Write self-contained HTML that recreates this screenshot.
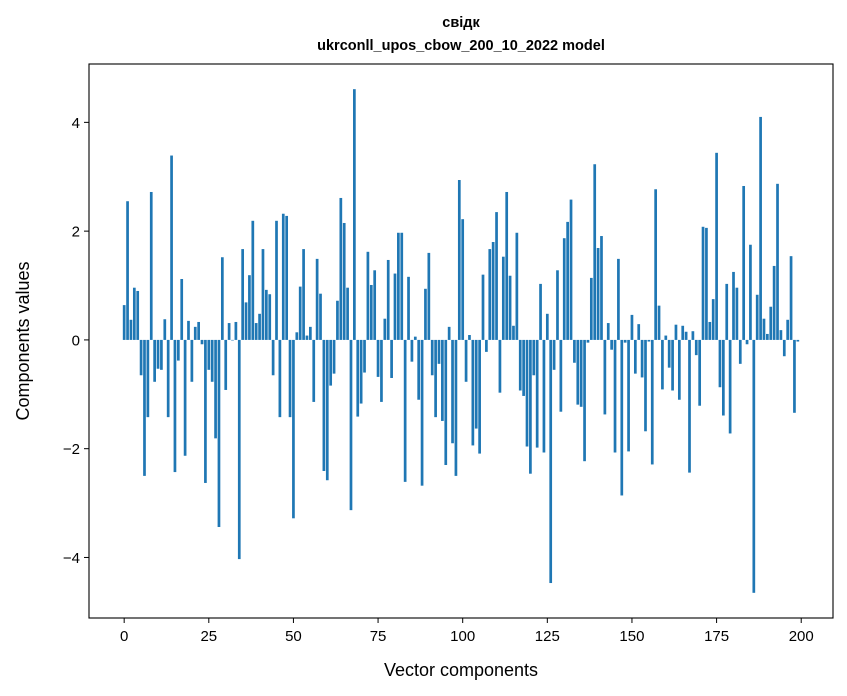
<!DOCTYPE html>
<html><head><meta charset="utf-8"><style>
html,body{margin:0;padding:0;background:#fff;}
svg{display:block;font-family:"Liberation Sans","DejaVu Sans",sans-serif;}
</style></head><body>
<svg id="chart" width="847" height="696" viewBox="0 0 847 696">
<rect width="847" height="696" fill="#fff"/>
<text x="461" y="27" text-anchor="middle" font-size="14.5" font-weight="bold">свідк</text>
<text x="461" y="50" text-anchor="middle" font-size="14.5" font-weight="bold">ukrconll_upos_cbow_200_10_2022 model</text>
<g id="bars"></g>
<g id="xticks"></g>
<g id="yticks"></g>
<rect x="89" y="64" width="744" height="554" fill="none" stroke="#000" stroke-width="1.1"/>
<text x="461" y="676" text-anchor="middle" font-size="18">Vector components</text>
<text transform="translate(29,341) rotate(-90)" text-anchor="middle" font-size="18">Components values</text>
</svg>
<script>
const values = [0.64,2.55,0.37,0.96,0.9,-0.65,-2.5,-1.42,2.72,-0.77,-0.53,-0.55,0.38,-1.42,3.39,-2.43,-0.38,1.12,-2.13,0.35,
-0.77,0.24,0.33,-0.08,-2.63,-0.55,-0.77,-1.81,-3.44,1.52,-0.92,0.31,-0.01,0.33,-4.03,1.67,0.69,1.19,2.19,0.31,
0.48,1.67,0.92,0.84,-0.65,2.19,-1.42,2.32,2.28,-1.42,-3.28,0.14,0.98,1.67,0.08,0.24,-1.14,1.49,0.85,-2.41,
-2.58,-0.84,-0.62,0.72,2.61,2.15,0.96,-3.13,4.61,-1.41,-1.17,-0.6,1.62,1.01,1.28,-0.68,-1.14,0.39,1.47,-0.7,
1.22,1.97,1.97,-2.61,1.16,-0.4,0.06,-1.1,-2.68,0.94,1.6,-0.65,-1.42,-0.44,-1.49,-2.3,0.24,-1.9,-2.5,2.94,
2.22,-0.77,0.09,-1.94,-1.63,-2.09,1.2,-0.22,1.67,1.8,2.35,-0.97,1.53,2.72,1.18,0.26,1.97,-0.93,-1.03,-1.96,
-2.46,-0.65,-1.98,1.03,-2.07,0.48,-4.47,-0.55,1.28,-1.32,1.87,2.17,2.58,-0.42,-1.19,-1.23,-2.23,-0.05,1.14,3.23,
1.69,1.91,-1.37,0.31,-0.18,-2.07,1.49,-2.86,-0.05,-2.05,0.46,-0.62,0.29,-0.69,-1.68,-0.03,-2.29,2.77,0.63,-0.91,
0.08,-0.51,-0.93,0.28,-1.1,0.26,0.15,-2.44,0.16,-0.28,-1.21,2.08,2.06,0.33,0.75,3.44,-0.87,-1.39,1.03,-1.72,
1.25,0.96,-0.44,2.83,-0.08,1.75,-4.65,0.83,4.1,0.39,0.11,0.61,1.36,2.87,0.18,-0.3,0.37,1.54,-1.34,-0.03];
const xTickValues = [0,25,50,75,100,125,150,175,200];
const yTickValues = [-4,-2,0,2,4];
const yTickLabels = ["\u22124","\u22122","0","2","4"];

const NS = "http://www.w3.org/2000/svg";
const L=89, R=833, T=64, B=618;
const n = values.length;
const xmin = -0.4 - 0.05*(n-1+0.8), xmax = (n-1)+0.4 + 0.05*(n-1+0.8);
const vmin = Math.min(0, ...values), vmax = Math.max(0, ...values);
const ymin = vmin - 0.05*(vmax-vmin), ymax = vmax + 0.05*(vmax-vmin);
const xs = v => L + (v - xmin)/(xmax - xmin)*(R - L);
const ys = v => B - (v - ymin)/(ymax - ymin)*(B - T);

const bars = document.getElementById('bars');
values.forEach((v,i)=>{
  const r = document.createElementNS(NS,'rect');
  const x0 = xs(i-0.4), x1 = xs(i+0.4);
  const y0 = ys(Math.max(0,v)), y1 = ys(Math.min(0,v));
  r.setAttribute('x', x0); r.setAttribute('width', x1-x0);
  r.setAttribute('y', y0); r.setAttribute('height', Math.max(0.3,y1-y0));
  r.setAttribute('fill','#1f77b4');
  
  
  bars.appendChild(r);
});
const xt = document.getElementById('xticks');
xTickValues.forEach(t=>{
  const x = xs(t);
  const l = document.createElementNS(NS,'line');
  l.setAttribute('x1',x); l.setAttribute('x2',x); l.setAttribute('y1',B); l.setAttribute('y2',B+5);
  l.setAttribute('stroke','#000');
  
  
  xt.appendChild(l);
  const tx = document.createElementNS(NS,'text');
  tx.setAttribute('x',x); tx.setAttribute('y',B+23); tx.setAttribute('text-anchor','middle'); tx.setAttribute('font-size','15');
  tx.textContent = String(t);
  
  
  xt.appendChild(tx);
});
const yt = document.getElementById('yticks');
yTickValues.forEach((t,k)=>{
  const y = ys(t);
  const l = document.createElementNS(NS,'line');
  l.setAttribute('x1',L-5); l.setAttribute('x2',L); l.setAttribute('y1',y); l.setAttribute('y2',y);
  l.setAttribute('stroke','#000');
  
  
  yt.appendChild(l);
  const tx = document.createElementNS(NS,'text');
  tx.setAttribute('x',L-9); tx.setAttribute('y',y+5.5); tx.setAttribute('text-anchor','end'); tx.setAttribute('font-size','15');
  tx.textContent = yTickLabels[k];
  
  
  yt.appendChild(tx);
});
</script>
</body></html>
